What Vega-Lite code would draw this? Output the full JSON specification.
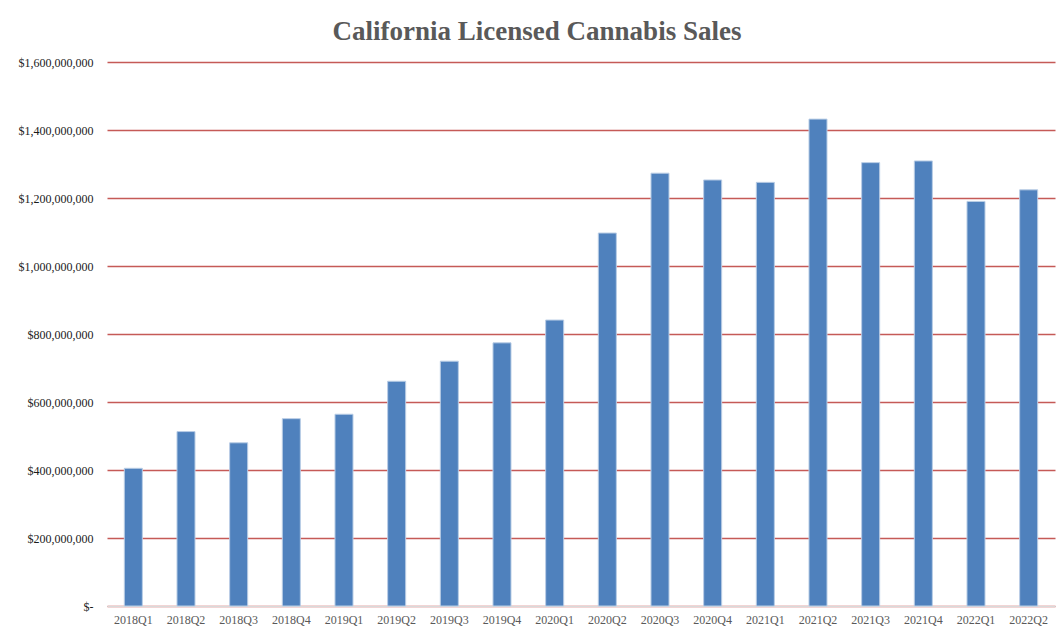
{
  "$schema": "https://vega.github.io/schema/vega-lite/v6.json",
  "width": 948,
  "height": 544,
  "autosize": "none",
  "padding": {"left": 107, "top": 62, "right": 4, "bottom": 26},
  "background": "white",
  "title": {
    "text": "California Licensed Cannabis Sales",
    "font": "Liberation Serif",
    "fontSize": 27,
    "fontWeight": "bold",
    "color": "#595959",
    "anchor": "middle",
    "dx": -44,
    "offset": 10
  },
  "data": {
    "values": [
      {"quarter": "2018Q1", "sales": 405000000},
      {"quarter": "2018Q2", "sales": 513000000},
      {"quarter": "2018Q3", "sales": 480000000},
      {"quarter": "2018Q4", "sales": 551000000},
      {"quarter": "2019Q1", "sales": 564000000},
      {"quarter": "2019Q2", "sales": 661000000},
      {"quarter": "2019Q3", "sales": 720000000},
      {"quarter": "2019Q4", "sales": 774000000},
      {"quarter": "2020Q1", "sales": 841000000},
      {"quarter": "2020Q2", "sales": 1097000000},
      {"quarter": "2020Q3", "sales": 1273000000},
      {"quarter": "2020Q4", "sales": 1253000000},
      {"quarter": "2021Q1", "sales": 1246000000},
      {"quarter": "2021Q2", "sales": 1432000000},
      {"quarter": "2021Q3", "sales": 1304000000},
      {"quarter": "2021Q4", "sales": 1309000000},
      {"quarter": "2022Q1", "sales": 1190000000},
      {"quarter": "2022Q2", "sales": 1224000000}
    ]
  },
  "mark": {"type": "bar", "color": "#4F81BD", "stroke": "#B9CDE5", "strokeWidth": 1},
  "encoding": {
    "x": {
      "field": "quarter",
      "type": "ordinal",
      "sort": null,
      "scale": {"paddingInner": 0.658, "paddingOuter": 0.329},
      "axis": {
        "title": null,
        "labelAngle": 0,
        "labelFont": "Liberation Serif",
        "labelFontSize": 12,
        "labelColor": "#595959",
        "labelPadding": 8,
        "ticks": false,
        "domain": true,
        "domainColor": "#D9D9D9",
        "domainWidth": 1
      }
    },
    "y": {
      "field": "sales",
      "type": "quantitative",
      "scale": {"domain": [0, 1600000000], "nice": false},
      "axis": {
        "title": null,
        "values": [0, 200000000, 400000000, 600000000, 800000000, 1000000000, 1200000000, 1400000000, 1600000000],
        "labelExpr": "datum.value == 0 ? '$-' : '$' + format(datum.value, ',')",
        "labelFont": "Liberation Serif",
        "labelFontSize": 12,
        "labelColor": "#1a1a1a",
        "labelPadding": 14,
        "ticks": false,
        "domain": false,
        "grid": true,
        "gridColor": "#C55A57",
        "gridWidth": 1.5
      }
    }
  },
  "config": {"view": {"stroke": null}}
}
